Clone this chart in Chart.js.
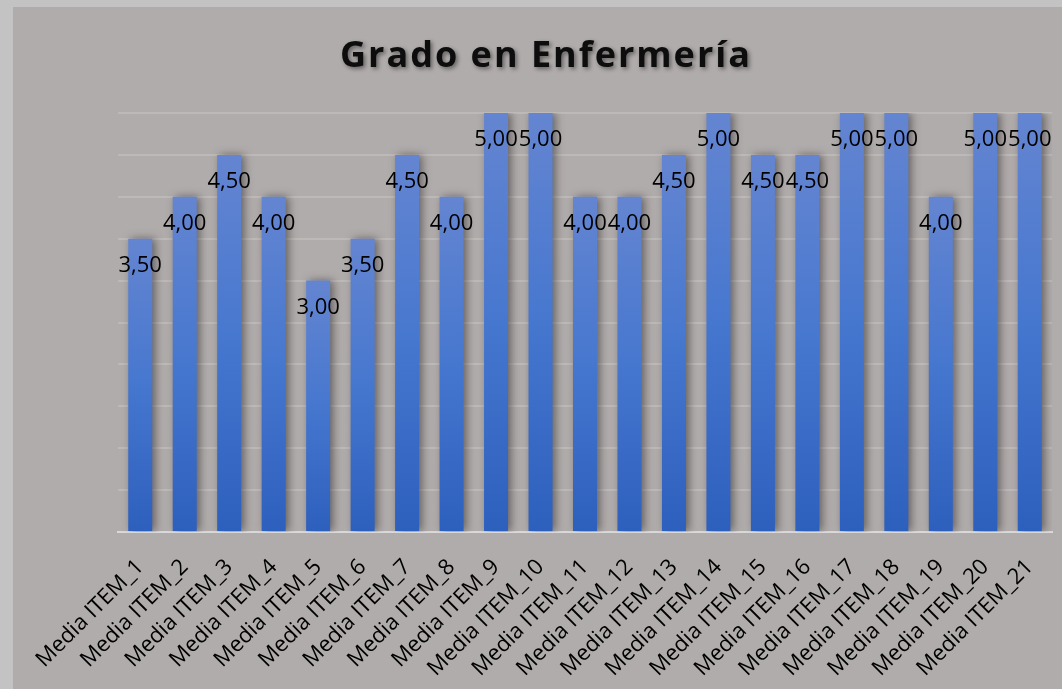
<!DOCTYPE html>
<html>
<head>
    <title>Grado en Enfermería</title>
    <meta charset="utf-8">
    <script src="https://cdn.jsdelivr.net/npm/chart.js"></script>
</head>
<style>
    body { margin: 0; background: #c3c3c3; }
    #frame { position: absolute; left: 13px; top: 7px; width: 1049px; height: 682px; background: #b0acab; }
</style>
<body>
    <div id="frame">
        <canvas id="gradoChart"></canvas>
    </div>
    <script>
        const titleText = 'Grado en Enfermería';
        const items = ['Media ITEM_1', 'Media ITEM_2', 'Media ITEM_3', 'Media ITEM_4', 'Media ITEM_5', 'Media ITEM_6', 'Media ITEM_7',
            'Media ITEM_8', 'Media ITEM_9', 'Media ITEM_10', 'Media ITEM_11', 'Media ITEM_12', 'Media ITEM_13', 'Media ITEM_14',
            'Media ITEM_15', 'Media ITEM_16', 'Media ITEM_17', 'Media ITEM_18', 'Media ITEM_19', 'Media ITEM_20', 'Media ITEM_21'];
        const medias = [3.5, 4, 4.5, 4, 3, 3.5, 4.5, 4, 5, 5, 4, 4, 4.5, 5, 4.5, 4.5, 5, 5, 4, 5, 5];

        // gradient per bar, light at the top, darker at the base
        function barGradient(context) {
            const chart = context.chart;
            if (!chart.chartArea || context.parsed === undefined) return '#4a74c9';
            const y = chart.scales.y;
            const top = y.getPixelForValue(context.parsed.y);
            const bottom = y.getPixelForValue(0);
            const g = chart.ctx.createLinearGradient(0, top, 0, bottom);
            g.addColorStop(0, '#6485d1');
            g.addColorStop(0.5, '#4677cf');
            g.addColorStop(1, '#2d5fbd');
            return g;
        }

        const barShadow = {
            id: 'barShadow',
            beforeDatasetsDraw(chart) {
                const ctx = chart.ctx;
                ctx.save();
                ctx.shadowColor = 'rgba(40,35,35,0.55)';
                ctx.shadowBlur = 9;
                ctx.shadowOffsetX = 3;
                ctx.shadowOffsetY = 0;
            },
            afterDatasetsDraw(chart) {
                chart.ctx.restore();
            }
        };

        const valueLabels = {
            id: 'valueLabels',
            afterDatasetsDraw(chart) {
                const ctx = chart.ctx;
                const meta = chart.getDatasetMeta(0);
                ctx.save();
                ctx.font = '22px "Open Sans"';
                ctx.fillStyle = '#000';
                ctx.textAlign = 'center';
                ctx.textBaseline = 'middle';
                meta.data.forEach(function(bar, i) {
                    ctx.fillText(medias[i].toFixed(2).replace('.', ','), bar.x, bar.y + 27);
                });
                ctx.restore();
            }
        };

        const spacedTitle = {
            id: 'spacedTitle',
            afterDraw(chart) {
                const ctx = chart.ctx;
                ctx.save();
                ctx.font = 'bold 36px "Open Sans"';
                ctx.letterSpacing = '2px';
                ctx.fillStyle = '#0d0d0d';
                ctx.textAlign = 'center';
                ctx.textBaseline = 'middle';
                ctx.shadowColor = 'rgba(0,0,0,0.45)';
                ctx.shadowBlur = 4;
                ctx.shadowOffsetX = 2;
                ctx.shadowOffsetY = 2;
                ctx.fillText(titleText, 533, 50);
                ctx.restore();
            }
        };

        const ctx = document.getElementById('gradoChart').getContext('2d');
        const chart = new Chart(ctx, {
            type: 'bar',
            data: {
                labels: items,
                datasets: [{
                    label: titleText,
                    data: medias,
                    backgroundColor: barGradient,
                    borderWidth: 0,
                    barPercentage: 0.54,
                    categoryPercentage: 1
                }]
            },
            options: {
                responsive: true,
                maintainAspectRatio: false,
                animation: false,
                layout: {
                    padding: { left: 105, right: 10, top: 106, bottom: 0 }
                },
                scales: {
                    x: {
                        grid: { display: false, drawTicks: false },
                        border: { color: '#d9d9d9', width: 2 },
                        afterFit: function(scale) {
                            scale.paddingLeft = 0;
                            scale.paddingRight = 0;
                            scale.height = 157;
                        },
                        ticks: {
                            color: '#000',
                            font: { family: 'Open Sans', size: 22 },
                            maxRotation: 45,
                            minRotation: 45,
                            autoSkip: false,
                            padding: 22
                        }
                    },
                    y: {
                        display: true,
                        min: 0,
                        max: 5,
                        ticks: { display: false, stepSize: 0.5 },
                        border: { display: false },
                        grid: { color: '#bdb9b7', lineWidth: 2, drawTicks: false }
                    }
                },
                plugins: {
                    legend: { display: false },
                    tooltip: { enabled: false }
                }
            },
            plugins: [barShadow, valueLabels, spacedTitle]
        });
    </script>
</body>
</html>
